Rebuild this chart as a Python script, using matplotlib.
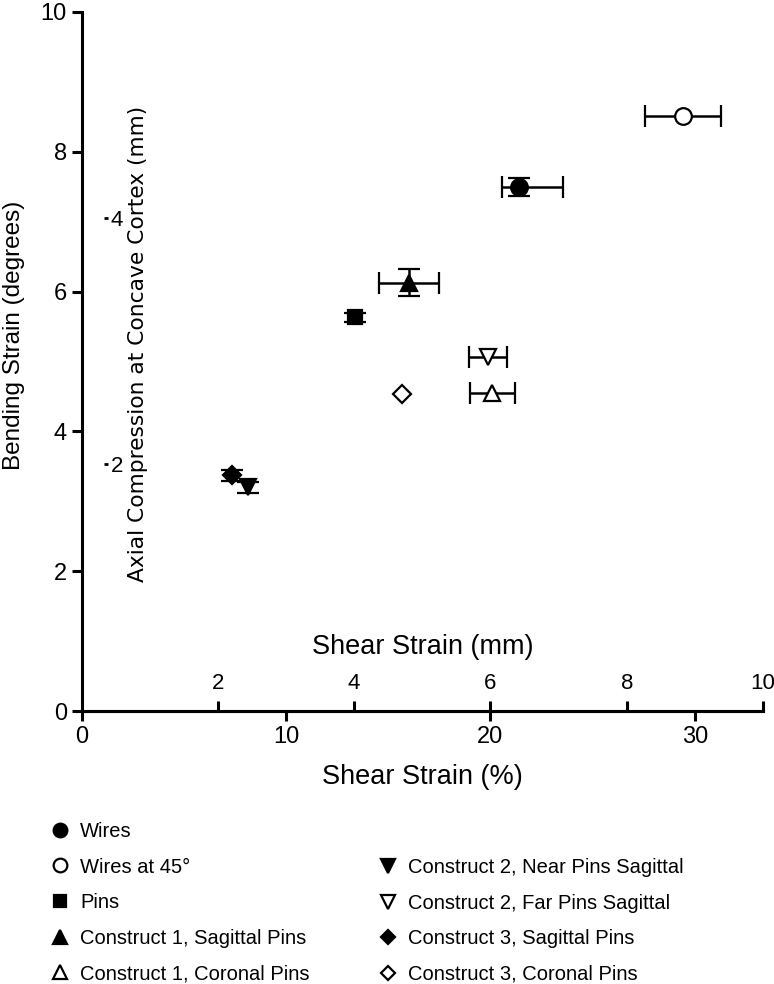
import numpy as np
import matplotlib
matplotlib.use('Agg')
import matplotlib.pyplot as plt
from matplotlib.lines import Line2D

plt.rcParams['font.family'] = ['Liberation Sans', 'DejaVu Sans']

# данные
labels = ['Wires', 'Wires at 45°', 'Pins', 'Construct 1, Sagittal Pins',
          'Construct 1, Coronal Pins', 'Construct 2, Near Pins Sagittal',
          'Construct 2, Far Pins Sagittal', 'Construct 3, Sagittal Pins',
          'Construct 3, Coronal Pins']
shear_pct = [21.4, 29.4, 13.4, 16.0, 20.1, 8.15, 19.9, 7.35, 15.7]
bending_deg = [7.50, 8.51, 5.63, 6.13, 4.55, 3.20, 5.06, 3.37, 4.53]
xerr_lo = [0.84, 1.86, 0, 1.47, 1.12, 0, 0.93, 0, 0]
xerr_hi = [2.17, 1.86, 0, 1.47, 1.12, 0, 0.93, 0, 0]
yerr = [0.13, 0, 0.07, 0.19, 0, 0.08, 0, 0.08, 0]

markers = ['o', 'o', 's', '^', '^', 'v', 'v', 'D', 'D']
filled = [True, False, True, True, False, True, False, True, False]
msizes = [12, 12, 10, 12, 12, 12, 12, 9, 9]

pct_per_mm = 10 / 3.0      # 6 мм = 20 %
deg_per_mm = 1.765

fig = plt.figure(figsize=(7.74, 9.84), dpi=100)
ax = fig.add_axes([81.5 / 774, 273 / 984, 681.5 / 774, 699 / 984])

for i in range(len(labels)):
    xe = None
    if xerr_lo[i] > 0 or xerr_hi[i] > 0:
        xe = [[xerr_lo[i]], [xerr_hi[i]]]
    ye = yerr[i] if yerr[i] > 0 else None
    ax.errorbar([shear_pct[i]], [bending_deg[i]], xerr=xe, yerr=ye,
                marker=markers[i], ms=msizes[i], mec='k', mew=1.6,
                mfc='k' if filled[i] else 'white', ecolor='k', elinewidth=1.8,
                capsize=8, capthick=1.8, ls='none', zorder=3)

ax.set_xlim(0, 10 * pct_per_mm)
ax.set_ylim(0, 10)
ax.spines['top'].set_visible(False)
ax.spines['right'].set_visible(False)
ax.spines['left'].set_linewidth(2.2)
ax.spines['bottom'].set_linewidth(2.2)
ax.set_xticks([0, 10, 20, 30])
ax.set_yticks([0, 2, 4, 6, 8, 10])
ax.tick_params(axis='both', direction='out', length=7, width=2.2, labelsize=17)
ax.set_xlabel('Shear Strain (%)', fontsize=19.5, labelpad=12)
ax.set_ylabel('Bending Strain (degrees)', fontsize=17.5)
ax.yaxis.set_label_coords(-0.083, 0.537)

# вторая ось X (мм) поверх нулевой линии
tw = ax.twiny()
tw.set_xlim(0, 10)
tw.spines['top'].set_position(('axes', 0))
tw.spines['top'].set_linewidth(2.2)
for s in ['left', 'right', 'bottom']:
    tw.spines[s].set_visible(False)
tw.set_xticks([2, 4, 6, 8, 10])
tw.tick_params(axis='x', direction='out', length=7, width=2.2, labelsize=16, pad=5)
tw.set_xlabel('Shear Strain (mm)', fontsize=19.5, labelpad=14)

# внутренняя ось Y (мм)
ty = ax.twinx()
ty.set_ylim(0, 10 / deg_per_mm)
ty.spines['right'].set_position(('data', 1.1))
for s in ['left', 'right', 'top', 'bottom']:
    ty.spines[s].set_visible(False)
ty.set_yticks([2, 4])
ty.tick_params(axis='y', direction='out', length=3, width=2, labelsize=16, pad=2)
ty.set_ylabel('Axial Compression at Concave Cortex (mm)', fontsize=15.7,
              family='DejaVu Sans', labelpad=4)
ty.yaxis.set_label_coords(0.068, 0.525)

# легенда в две колонки
handles = []
for i in range(len(labels)):
    handles.append(Line2D([], [], marker=markers[i], ls='none', ms=msizes[i] * 0.82,
                          mec='k', mew=1.6, mfc='k' if filled[i] else 'white'))

leg_kw = dict(frameon=False, fontsize=14.5, handlelength=1.2, handletextpad=0.4,
              labelspacing=0.82, borderpad=0, borderaxespad=0, loc='upper left')
fig.legend(handles[:5], labels[:5], bbox_to_anchor=(0.062, 0.1646), **leg_kw)
fig.legend(handles[5:], labels[5:], bbox_to_anchor=(0.486, 0.128), **leg_kw)

plt.savefig('out.png', dpi=100)
